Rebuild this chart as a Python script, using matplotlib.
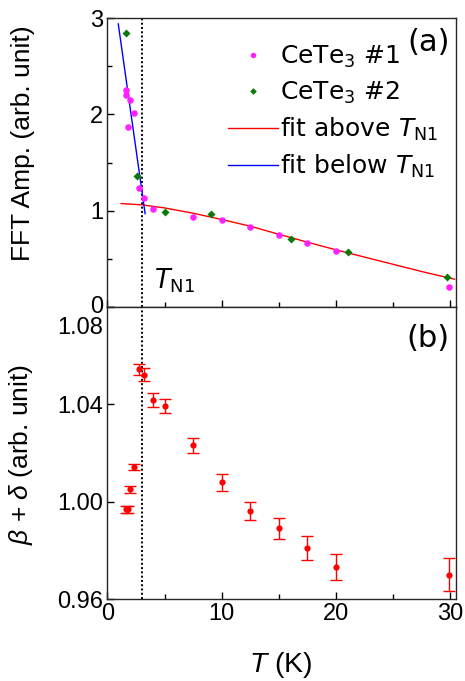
import matplotlib
matplotlib.use('Agg')
import matplotlib.pyplot as plt
import matplotlib.transforms as mtransforms
from matplotlib.font_manager import FontProperties
from matplotlib.ticker import MultipleLocator, FixedLocator

# ---- data ----
T1 = [1.6, 1.6, 2.0, 2.3, 1.8, 2.8, 3.2, 4.0, 7.5, 10.0, 12.5, 15.0, 17.5, 20.0, 29.9]
A1 = [2.25, 2.20, 2.15, 2.01, 1.87, 1.24, 1.135, 1.02, 0.94, 0.90, 0.835, 0.75, 0.67, 0.585, 0.21]
T2 = [1.65, 2.6, 5.0, 9.1, 16.1, 21.1, 29.7]
A2 = [2.85, 1.36, 0.99, 0.97, 0.71, 0.57, 0.31]
fit_above_T = [1.2, 3.0, 5.0, 7.5, 10.0, 12.5, 15.0, 17.5, 20.0, 22.5, 25.0, 27.5, 30.4]
fit_above_A = [1.075, 1.062, 1.03, 0.975, 0.91, 0.84, 0.757, 0.675, 0.595, 0.52, 0.445, 0.37, 0.29]
fit_below_T = [0.95, 3.3]
fit_below_A = [2.94, 0.97]
TN1 = 3.0

Tb = [1.6, 1.8, 2.0, 2.3, 2.8, 3.2, 4.0, 5.0, 7.5, 10.0, 12.5, 15.0, 17.5, 20.0, 29.9]
Vb = [0.9968, 0.9968, 1.0051, 1.0142, 1.0544, 1.0523, 1.0418, 1.0394, 1.0233, 1.008,
      0.9961, 0.989, 0.981, 0.973, 0.970]
Eb = [0.0013, 0.0013, 0.0014, 0.0012, 0.0022, 0.0025, 0.0028, 0.0029, 0.0031, 0.0035,
      0.0038, 0.0044, 0.0049, 0.0053, 0.0067]

xticks = [0, 10, 20, 30]
yticks_a = [0, 1, 2, 3]
yticks_b = [0.96, 1.00, 1.04, 1.08]
yticklabels_b = ['0.96', '1.00', '1.04', '1.08']

plt.rcParams['font.family'] = ['Liberation Sans', 'DejaVu Sans']
plt.rcParams['mathtext.fontset'] = 'custom'
plt.rcParams['mathtext.rm'] = 'Liberation Sans'
plt.rcParams['mathtext.it'] = 'Liberation Sans:italic'
plt.rcParams['mathtext.bf'] = 'Liberation Sans:bold'

fig = plt.figure(figsize=(4.65, 6.81), dpi=100)
axa = fig.add_axes([0.231, 0.549, 0.749, 0.4244])
axb = fig.add_axes([0.231, 0.1204, 0.749, 0.4286])

dv = dict(family='DejaVu Sans', math_fontfamily='dejavusans')

for ax in (axa, axb):
    ax.set_xlim(0, 30.5)
    ax.xaxis.set_major_locator(FixedLocator(xticks))
    ax.xaxis.set_minor_locator(MultipleLocator(5))
    ax.tick_params(which='both', direction='in', top=False, right=False, labelsize=17, pad=3)
    ax.tick_params(which='major', length=5, width=1)
    ax.tick_params(which='minor', length=3.5, width=1)
    for s in ax.spines.values():
        s.set_linewidth(1)
        s.set_color('0.15')
    ax.axvline(TN1, color='black', lw=1.4, ls=(0, (1, 1.2)), zorder=1)

# ---- panel (a) ----
axa.set_ylim(0, 3)
axa.yaxis.set_major_locator(FixedLocator(yticks_a))
axa.yaxis.set_minor_locator(MultipleLocator(0.5))
axa.tick_params(axis='x', which='both', labelbottom=False)
axa.plot(T1, A1, 'o', color='#ff22ff', ms=4.7, mec='none', label='CeTe$_3$ #1', zorder=3)
axa.plot(T2, A2, 'D', color='#0a7a0a', ms=4, mec='none', label='CeTe$_3$ #2', zorder=3)
axa.plot(fit_above_T, fit_above_A, '-', color='red', lw=1, label='fit above $T_{\\rm N1}$', zorder=2)
axa.plot(fit_below_T, fit_below_A, '-', color='blue', lw=1, label='fit below $T_{\\rm N1}$', zorder=2)
leg = axa.legend(loc='upper right', bbox_to_anchor=(0.95, 0.912), frameon=False,
                 prop=FontProperties(size=18, **dv), numpoints=1, handlelength=2.0,
                 handletextpad=0.1, labelspacing=0.4, borderpad=0, borderaxespad=0,
                 markerscale=0.85)
axa.text(0.983, 0.886, '(a)', transform=axa.transAxes, ha='right', va='baseline',
         fontsize=22, **dv)
axa.text(4.1, 0.19, '$T_{\\rm N1}$', ha='left', va='baseline', fontsize=18.5, **dv)
zero_lab = axa.get_yticklabels()[0]
zero_lab.set_transform(zero_lab.get_transform() +
                       mtransforms.ScaledTranslation(0, 2.2 / 72, fig.dpi_scale_trans))

# ---- panel (b) ----
axb.set_ylim(0.96, 1.08)
axb.yaxis.set_major_locator(FixedLocator(yticks_b))
axb.set_yticklabels(yticklabels_b)
top_lab = axb.get_yticklabels()[-1]
top_lab.set_verticalalignment('top')
top_lab.set_transform(top_lab.get_transform() +
                      mtransforms.ScaledTranslation(0, -7.2 / 72, fig.dpi_scale_trans))
axb.errorbar(Tb, Vb, yerr=Eb, fmt='o', color='red', ms=4.5, mec='none', elinewidth=1,
             capsize=4, capthick=1, zorder=3)
axb.text(0.983, 0.863, '(b)', transform=axb.transAxes, ha='right', va='baseline',
         fontsize=22, **dv)

# ---- labels ----
fig.text(0.0484, 0.79, 'FFT Amp. (arb. unit)', rotation=90, ha='center', va='center', fontsize=19)
fig.text(0.0452, 0.332, '$\\beta$ + $\\delta$ (arb. unit)', rotation=90, ha='center', va='center', fontsize=19)
fig.text(0.603, 0.013, '$T$ (K)', ha='center', va='baseline', fontsize=20.5)

fig.savefig('out.png', dpi=100)
